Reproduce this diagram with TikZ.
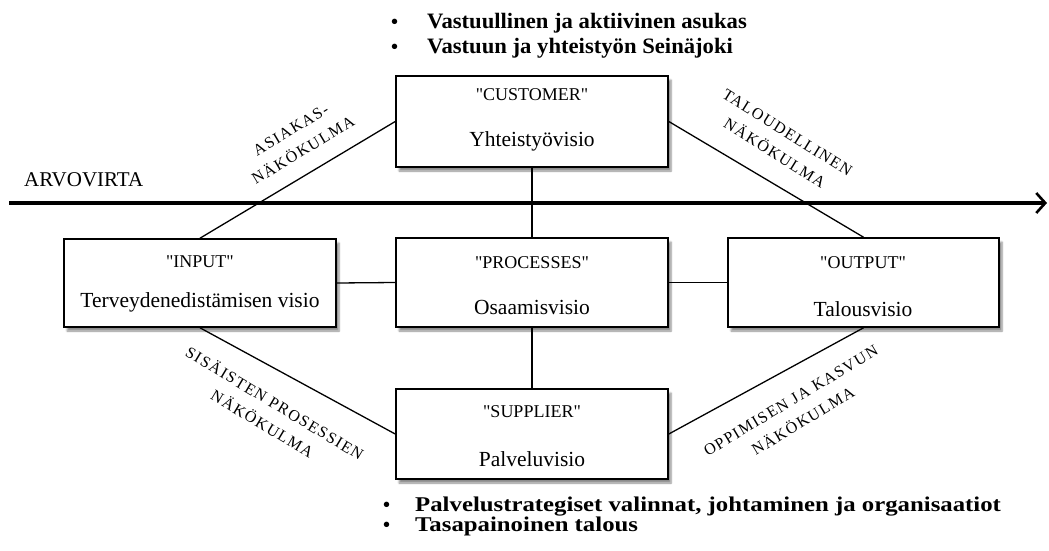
\documentclass[tikz,border=0pt]{standalone}
\usepackage{fontspec}
\setmainfont{Liberation Serif}[BoldFont={Liberation Serif Bold}]
\newfontfamily\tagfont{Liberation Serif}[Ligatures=TeXOff]
\newfontfamily\spacedfont{Liberation Serif}[LetterSpace=9]
\newfontfamily\goalfont{Liberation Serif Bold}
\usetikzlibrary{arrows.meta,shadows.blur}

\begin{document}
\begin{tikzpicture}[x=1pt,y=-1pt,
  box/.style={draw,line width=1.6pt,fill=white,inner sep=0pt,
    minimum width=272pt,minimum height=89pt,
    blur shadow={shadow xshift=3pt,shadow yshift=-4pt,shadow blur steps=6,shadow opacity=45}},
  tag/.style={inner sep=0pt,font=\tagfont\fontsize{18}{20}\selectfont},
  vision/.style={inner sep=0pt,font=\fontsize{21.5}{24}\selectfont},
  link/.style={line width=1.3pt},
  view/.style={inner sep=0pt,align=center,font=\spacedfont\fontsize{16}{24}\selectfont},
  goal/.style={anchor=base west,inner sep=0pt,font=\goalfont\fontsize{22}{26}\selectfont},
  lowgoal/.style={anchor=base west,inner sep=0pt,font=\goalfont\fontsize{21}{26}\selectfont},
  dot/.style={anchor=base west,inner sep=0pt,font=\goalfont\fontsize{20}{26}\selectfont},
  flow/.style={line width=3.2pt,-{Straight Barb[length=9pt,width=20pt,line width=2.6pt]}}
]
\useasboundingbox (0,0) rectangle (1049,551);

% perspective boxes
\node[box,minimum height=91pt] (cust) at (532,121.5) {};
\node[box,minimum height=88pt] (inp)  at (200,283) {};
\node[box] (proc) at (532,282.5) {};
\node[box,minimum width=271pt] (outp) at (863.5,282.5) {};
\node[box,minimum height=90pt] (supp) at (532,434) {};

% box texts
\node[tag]    (custtag) at (532,95)  {"CUSTOMER"};
\node[vision] (custvis) at (532,141) {Yhteistyövisio};
\node[tag]    (inptag)  at (200,262) {"INPUT"};
\node[vision] (inpvis)  at (200,302) {Terveydenedistämisen visio};
\node[tag]    (proctag) at (532,263) {"PROCESSES"};
\node[vision] (procvis) at (532,307) {Osaamisvisio};
\node[tag]    (outptag) at (863,263) {"OUTPUT"};
\node[vision] (outpvis) at (863,309) {Talousvisio};
\node[tag]    (supptag) at (532,412) {"SUPPLIER"};
\node[vision] (suppvis) at (532,459) {Palveluvisio};

% connectors between the boxes
\draw[link] (cust.west) -- (inp.north);
\draw[link] (cust.east) -- (outp.north);
\draw[link] (inp.south) -- (supp.west);
\draw[link] (outp.south) -- (supp.east);
\draw[link] (inp.east) -- (proc.west);
\draw[link] (proc.east) -- (outp.west);
\draw[link] (cust.south) -- (proc.north);
\draw[link] (proc.south) -- (supp.north);

% value stream
\coordinate (flowstart) at (9,203);
\coordinate (flowend) at (1047,203);
\draw[flow] (flowstart) -- (flowend);
\node[anchor=west,inner sep=0pt,font=\fontsize{21}{24}\selectfont] (arvo) at (24,180) {ARVOVIRTA};

% perspective names along the diagonals
\node[view,rotate=31]  (asiakas) at (297,140) {ASIAKAS-\\NÄKÖKULMA};
\node[view,rotate=-32] (talous)  at (781,143) {TALOUDELLINEN\\NÄKÖKULMA};
\node[view,rotate=-31] (sisa)    at (269,413) {SISÄISTEN PROSESSIEN\\NÄKÖKULMA};
\node[view,rotate=31]  (oppi)    at (797,411) {OPPIMISEN JA KASVUN\\NÄKÖKULMA};

% goals above and below
\node[dot]  (b1) at (391,29) {•};
\node[goal] (g1) at (427,29) {\scalebox{1.03}[1]{Vastuullinen ja aktiivinen asukas}};
\node[dot]  (b2) at (391,53) {•};
\node[goal] (g2) at (427,53) {\scalebox{1.03}[1]{Vastuun ja yhteistyön Seinäjoki}};
\node[dot]  (b3) at (383,511) {•};
\node[lowgoal] (g3) at (415,511) {\scalebox{1.18}[1]{Palvelustrategiset valinnat, johtaminen ja organisaatiot}};
\node[dot]  (b4) at (383,531) {•};
\node[lowgoal] (g4) at (415,531) {\scalebox{1.18}[1]{Tasapainoinen talous}};
\end{tikzpicture}
\end{document}
